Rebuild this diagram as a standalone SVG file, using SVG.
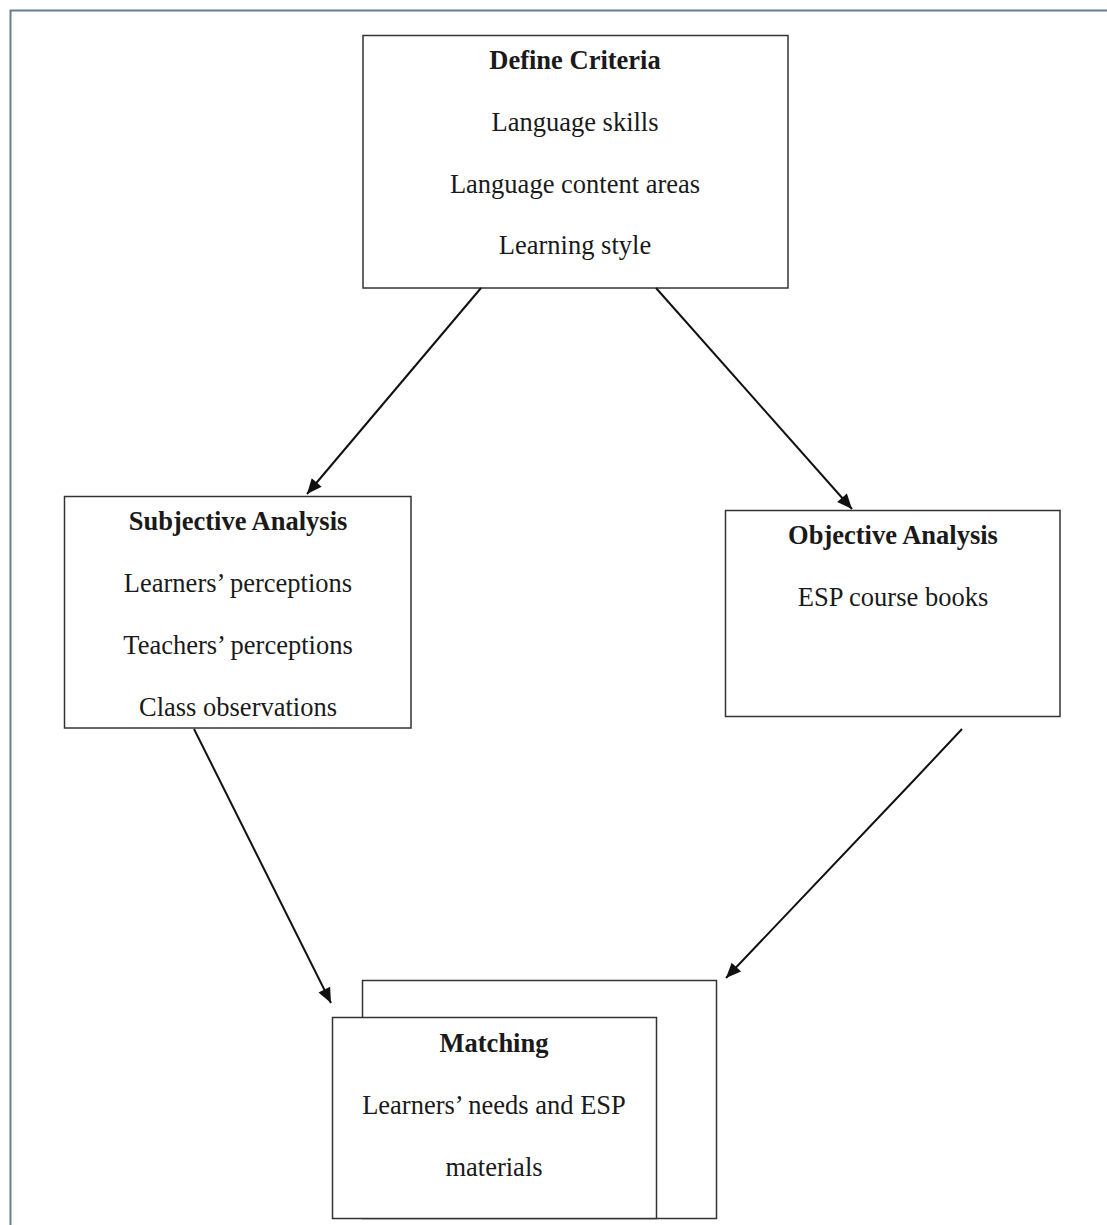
<svg xmlns="http://www.w3.org/2000/svg" width="1107" height="1225" viewBox="0 0 1107 1225">
<style>
.box{fill:#fff;stroke:#333;stroke-width:1.5}
text{font-family:"Liberation Serif","Times New Roman",serif;font-size:26.5px;fill:#1a1a1a;text-anchor:middle}
.h{font-weight:bold}
.c{stroke:#111;stroke-width:2;fill:none;marker-end:url(#ah)}
</style>
<defs>
<marker id="ah" viewBox="-15 -7 16 14" refX="0" refY="0" markerWidth="16" markerHeight="14" markerUnits="userSpaceOnUse" orient="auto" overflow="visible">
<path d="M-15,-6.5 L0,0 L-15,6.5 z" fill="#111"/>
</marker>
</defs>
<rect x="0" y="0" width="1107" height="1225" fill="#fff"/>
<rect x="10.5" y="10.5" width="1110" height="1230" fill="none" stroke="#6a7a90" stroke-width="2"/>
<g id="define">
<rect class="box" x="363" y="35.5" width="425" height="252.5"/>
<text class="h" x="575" y="69">Define Criteria</text>
<text x="575" y="131">Language skills</text>
<text x="575" y="193">Language content areas</text>
<text x="575" y="254">Learning style</text>
</g>
<g id="subjective">
<rect class="box" x="64.5" y="496.5" width="346.5" height="231.5"/>
<text class="h" x="238" y="530">Subjective Analysis</text>
<text x="238" y="592">Learners’ perceptions</text>
<text x="238" y="654">Teachers’ perceptions</text>
<text x="238" y="716">Class observations</text>
</g>
<g id="objective">
<rect class="box" x="725.5" y="510.5" width="334.5" height="206"/>
<text class="h" x="893" y="544">Objective Analysis</text>
<text x="893" y="606">ESP course books</text>
</g>
<g id="matching">
<rect class="box" x="362.5" y="980.5" width="354" height="238"/>
<rect class="box" x="332.5" y="1017.5" width="324" height="201"/>
<text class="h" x="494" y="1052">Matching</text>
<text x="494" y="1114">Learners’ needs and ESP</text>
<text x="494" y="1176">materials</text>
</g>
<g id="connectors">
<line class="c" x1="481" y1="288" x2="307" y2="494"/>
<line class="c" x1="656" y1="288" x2="852" y2="509"/>
<line class="c" x1="194" y1="729" x2="331" y2="1003"/>
<polyline class="c" points="962,729 916,778 726,978"/>
</g>
</svg>
